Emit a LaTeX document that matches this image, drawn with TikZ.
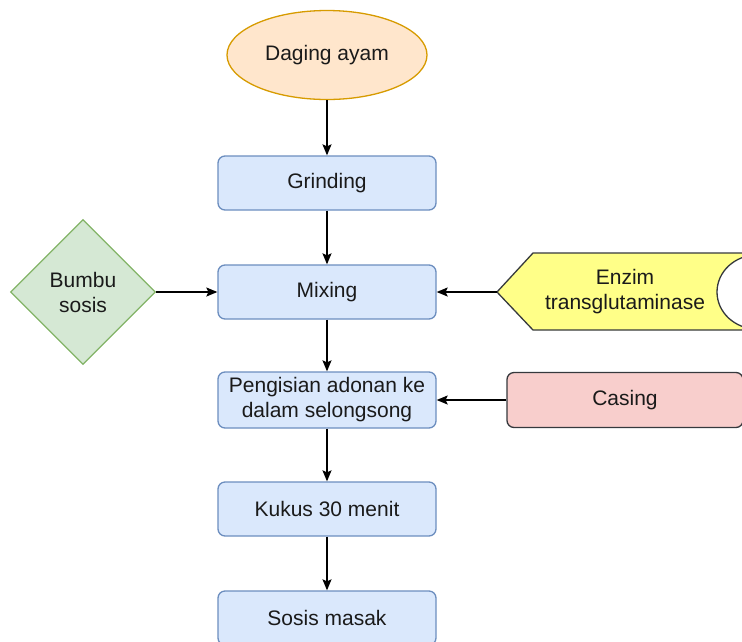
\documentclass[tikz,border=0pt]{standalone}
\usepackage{fontspec}
\setmainfont{Liberation Sans}
\usetikzlibrary{shapes.geometric,arrows.meta}

\definecolor{procfill}{HTML}{DAE8FC}
\definecolor{procline}{HTML}{6C8EBF}
\definecolor{startfill}{HTML}{FFE6CC}
\definecolor{startline}{HTML}{D79B00}
\definecolor{spicefill}{HTML}{D5E8D4}
\definecolor{spiceline}{HTML}{82B366}
\definecolor{enzimfill}{HTML}{FFFF88}
\definecolor{casefill}{HTML}{F8CECC}
\definecolor{darkline}{HTML}{36393D}
\definecolor{textgray}{HTML}{1A1A1A}

\tikzset{
  proc/.style={draw=procline, fill=procfill, line width=1.3pt, rounded corners=7pt,
    minimum width=218pt, minimum height=54pt},
  start/.style={ellipse, draw=startline, fill=startfill, line width=1.3pt,
    minimum width=200pt, minimum height=89pt},
  spice/.style={diamond, draw=spiceline, fill=spicefill, line width=1.3pt,
    minimum width=145pt, minimum height=145pt},
  casebox/.style={draw=darkline, fill=casefill, line width=1.3pt, rounded corners=7pt,
    minimum width=236pt, minimum height=55pt},
  flow/.style={line width=1.4pt, -{Stealth[length=11pt, width=9pt, inset=2pt]}}
}

\begin{document}
\begin{tikzpicture}[x=1pt, y=-1pt, every node/.style={font=\fontsize{21}{25}\selectfont, text=textgray, align=center, inner sep=0pt}]
	% Frame
	\path[use as bounding box, clip] (0,0) rectangle (742,641);

	% Main line
	\node[start] (daging) at (327,55) {Daging ayam};
	\node[proc] (grinding) at (327,183) {Grinding};
	\node[proc] (mixing) at (327,292) {Mixing};
	\node[proc, minimum height=56pt] (pengisian) at (327,400) {Pengisian adonan ke\\dalam selongsong};
	\node[proc] (kukus) at (327,509) {Kukus 30 menit};
	\node[proc] (sosis) at (327,618) {Sosis masak};

	% Side inputs
	\node[spice] (bumbu) at (83,292) {Bumbu\\sosis};

	\fill[enzimfill] (497,292) -- (533,253) -- (760,253) -- (760,330) -- (533,330) -- cycle;
	\draw[darkline, line width=1.3pt] (760,253) -- (533,253) -- (497,292) -- (533,330) -- (760,330);
	\filldraw[fill=white, draw=darkline, line width=1.3pt] (757,292) ellipse (40pt and 37pt);
	\node (enzim) at (625,292) {Enzim\\transglutaminase};
	\coordinate (enzimtip) at (497,292);

	\node[casebox] (casing) at (625,400) {Casing};

	% Arrows
	\draw[flow] (daging) -- (grinding);
	\draw[flow] (grinding) -- (mixing);
	\draw[flow] (mixing) -- (pengisian);
	\draw[flow] (pengisian) -- (kukus);
	\draw[flow] (kukus) -- (sosis);
	\draw[flow] (bumbu) -- (mixing);
	\draw[flow] (enzimtip) -- (mixing);
	\draw[flow] (casing) -- (pengisian);
\end{tikzpicture}
\end{document}
